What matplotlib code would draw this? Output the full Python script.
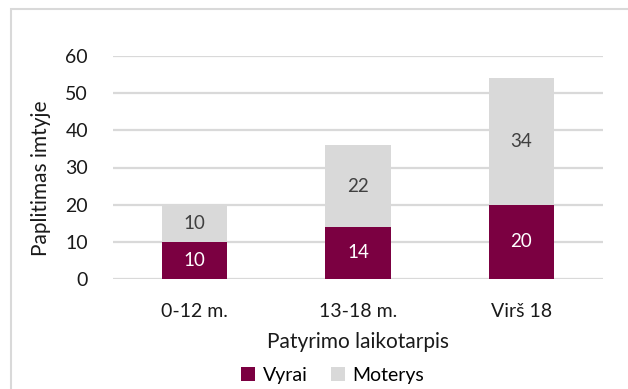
import numpy as np
import matplotlib.pyplot as plt
from matplotlib.patches import Rectangle

plt.rcParams['font.family'] = ['Lato', 'DejaVu Sans']

categories = ['0-12 m.', '13-18 m.', 'Virš 18']
vyrai = [10, 14, 20]
moterys = [10, 22, 34]

maroon = '#7B0041'
light = '#D9D9D9'
txt = '#404040'

W, H = 628, 389
fig = plt.figure(figsize=(6.28, 3.89), dpi=100)
ax = fig.add_axes([113 / W, 1 - 279 / H, 490 / W, 223 / H])

x = np.arange(len(categories))
w = 0.40
ax.bar(x, vyrai, w, color=maroon, label='Vyrai', zorder=3)
ax.bar(x, moterys, w, bottom=vyrai, color=light, label='Moterys', zorder=3)

for i in range(len(categories)):
    ax.text(x[i], vyrai[i] / 2, str(vyrai[i]), ha='center', va='center',
            color='white', fontsize=13.5, zorder=4)
    ax.text(x[i], vyrai[i] + moterys[i] / 2, str(moterys[i]), ha='center',
            va='center', color=txt, fontsize=13.5, zorder=4)

ax.set_xlim(-0.5, 2.5)
ax.set_ylim(0, 60)
ax.set_yticks(range(0, 61, 10))
ax.set_xticks(x)
ax.set_xticklabels(categories)
ax.yaxis.grid(True, color=light, linewidth=1.6, zorder=0)
ax.tick_params(length=0, labelsize=14, labelcolor='#1a1a1a')
ax.tick_params(axis='y', pad=18)
ax.tick_params(axis='x', pad=17)
for s in ax.spines.values():
    s.set_visible(False)

fig.text(41 / W, 1 - 178 / H, 'Paplitimas imtyje', rotation=90, ha='center',
         va='center', fontsize=15, color='#1a1a1a')
fig.text(358 / W, 1 - 342 / H, 'Patyrimo laikotarpis', ha='center',
         va='center', fontsize=15, color='#1a1a1a')

fig.legend(loc='center', bbox_to_anchor=(0.53, 1 - 375 / H), ncol=2, frameon=False,
           fontsize=14, handlelength=0.7, handleheight=0.7, columnspacing=1.2,
           handletextpad=0.4, borderaxespad=0, borderpad=0)

# chart border
fig.add_artist(Rectangle((11 / W, -0.1), 1.1, 1 - 9 / H + 0.1,
                         transform=fig.transFigure, fill=False,
                         edgecolor='#D9D9D9', linewidth=1.5))

fig.savefig('out.png', dpi=100)
